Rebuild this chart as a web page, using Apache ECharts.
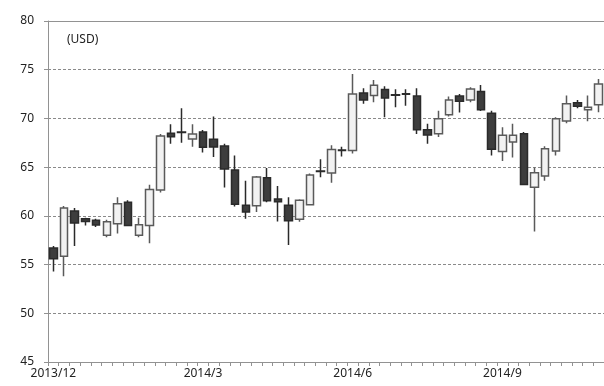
<!DOCTYPE html>
<html>
<head>
<meta charset="utf-8">
<script src="https://cdn.jsdelivr.net/npm/echarts@6/dist/echarts.min.js"></script>
<style>
  html, body { margin: 0; padding: 0; background: #fff; }
  #chart { width: 604px; height: 386px; }
</style>
</head>
<body>
<div id="chart"></div>
<script>
// Weekly candles, USD
var weeks = [
  '2013/12/02','2013/12/09','2013/12/16','2013/12/23','2013/12/30',
  '2014/01/06','2014/01/13','2014/01/20','2014/01/27','2014/02/03',
  '2014/02/10','2014/02/17','2014/02/24','2014/03/03','2014/03/10',
  '2014/03/17','2014/03/24','2014/03/31','2014/04/07','2014/04/14',
  '2014/04/21','2014/04/28','2014/05/05','2014/05/12','2014/05/19',
  '2014/05/26','2014/06/02','2014/06/09','2014/06/16','2014/06/23',
  '2014/06/30','2014/07/07','2014/07/14','2014/07/21','2014/07/28',
  '2014/08/04','2014/08/11','2014/08/18','2014/08/25','2014/09/01',
  '2014/09/08','2014/09/15','2014/09/22','2014/09/29','2014/10/06',
  '2014/10/13','2014/10/20','2014/10/27','2014/11/03','2014/11/10',
  '2014/11/17','2014/11/24'
];

var opens = [
  56.70, 55.85, 60.50, 59.70, 59.56, 58.00, 59.20, 61.40, 58.00, 59.00,
  62.65, 68.47, 68.60, 67.90, 68.60, 67.86, 67.17, 64.70, 61.10, 61.05,
  63.90, 61.73, 61.10, 59.66, 61.15, 64.60, 64.40, 66.75, 66.70, 72.60,
  72.35, 72.96, 72.43, 72.53, 72.30, 68.85, 68.44, 70.38, 72.30, 71.90,
  72.76, 70.54, 66.60, 67.58, 68.44, 62.93, 64.08, 66.66, 69.73, 71.60,
  70.90, 71.40
];
var closes = [
  55.60, 60.80, 59.26, 59.42, 59.05, 59.40, 61.25, 59.00, 59.10, 62.70,
  68.20, 68.13, 68.55, 68.40, 67.04, 67.07, 64.80, 61.20, 60.40, 64.00,
  61.56, 61.46, 59.50, 61.60, 64.20, 64.55, 66.80, 66.70, 72.50, 71.90,
  73.40, 72.10, 72.38, 72.48, 68.85, 68.30, 69.97, 71.90, 71.77, 73.03,
  70.90, 66.84, 68.27, 68.27, 63.23, 64.42, 66.90, 69.97, 71.50, 71.25,
  71.16, 73.54
];
var lows = [
  54.30, 53.80, 56.90, 59.00, 58.85, 57.80, 58.20, 59.00, 57.80, 57.20,
  62.40, 67.40, 67.50, 67.10, 66.50, 66.05, 62.90, 60.95, 59.70, 60.40,
  61.40, 59.42, 57.00, 59.40, 61.15, 63.95, 63.40, 66.10, 66.40, 71.50,
  71.66, 70.13, 71.15, 71.30, 68.40, 67.40, 68.10, 70.20, 70.60, 71.66,
  70.75, 66.20, 65.64, 66.00, 63.23, 58.40, 63.60, 66.20, 69.50, 71.05,
  69.70, 70.64
];
var highs = [
  56.90, 61.00, 60.80, 59.80, 59.70, 59.60, 61.90, 61.60, 59.80, 63.20,
  68.40, 69.40, 71.05, 69.40, 68.80, 70.20, 67.40, 66.20, 63.60, 64.10,
  64.90, 63.06, 61.90, 61.70, 64.35, 65.80, 67.25, 67.10, 74.56, 73.10,
  73.95, 73.30, 73.00, 73.00, 73.10, 69.46, 70.80, 72.24, 72.50, 73.20,
  73.44, 70.80, 69.10, 69.46, 68.60, 64.97, 67.14, 70.13, 72.35, 71.90,
  72.35, 74.05
];

var yTicks = [45, 50, 55, 60, 65, 70, 75, 80];
var unitLabel = '(USD)';

var candles = weeks.map(function (w, i) {
  return [opens[i], closes[i], lows[i], highs[i]];
});

var FONT = 'Noto Sans';
var chart = echarts.init(document.getElementById('chart'), null, { renderer: 'canvas' });

chart.setOption({
  animation: false,
  backgroundColor: '#ffffff',
  textStyle: { fontFamily: FONT },
  title: {
    text: unitLabel,
    left: 62, top: 29,
    textStyle: { fontFamily: FONT, fontSize: 12, fontWeight: 'normal', color: '#222' }
  },
  // plot area runs slightly past the right edge of the canvas
  grid: { left: 48, width: 560, top: 21, bottom: 24 },
  xAxis: [{
    type: 'category',
    data: weeks,
    boundaryGap: true,
    axisLine: { show: true, lineStyle: { color: '#929292', width: 1 } },
    axisTick: { show: true, interval: 0, length: 4, lineStyle: { color: '#929292' } },
    axisLabel: {
      interval: 13,
      margin: 6,
      fontFamily: FONT, fontSize: 12, color: '#222',
      formatter: function (v) {
        var p = v.split('/');
        return p[0] + '/' + parseInt(p[1], 10);
      }
    },
    splitLine: { show: false }
  }, {
    type: 'category',
    position: 'top',
    data: weeks,
    axisLine: { show: true, lineStyle: { color: '#929292', width: 1 } },
    axisTick: { show: false },
    axisLabel: { show: false },
    splitLine: { show: false }
  }],
  yAxis: {
    type: 'value',
    min: yTicks[0],
    max: yTicks[yTicks.length - 1],
    interval: 5,
    axisLine: { show: true, lineStyle: { color: '#929292', width: 1 } },
    axisTick: { show: true, length: 4, lineStyle: { color: '#929292' } },
    axisLabel: { margin: 14, fontFamily: FONT, fontSize: 12, color: '#222' },
    splitLine: { show: true, lineStyle: { color: '#8a8a8a', type: [3, 2], width: 1 } }
  },
  series: [{
    type: 'candlestick',
    xAxisIndex: 0,
    data: candles,
    barWidth: 8,
    itemStyle: {
      color: '#f2f2f2',
      color0: '#3d3d3d',
      borderColor: '#5a5a5a',
      borderColor0: '#2a2a2a',
      borderWidth: 1.5
    }
  }]
});
</script>
</body>
</html>
